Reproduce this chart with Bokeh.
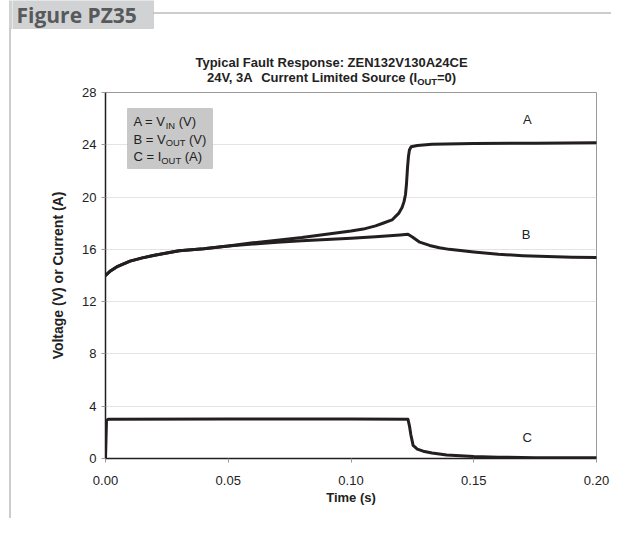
from bokeh.plotting import figure
from bokeh.layouts import column, row
from bokeh.models import (FixedTicker, NumeralTickFormatter, Label, BoxAnnotation, Range1d, Span)
from bokeh.embed import file_html
from bokeh.resources import INLINE

# ---------------- data ----------------
t_vin = [0.0, 0.002, 0.005, 0.01, 0.015, 0.02, 0.03, 0.04, 0.05, 0.06, 0.07, 0.08, 0.09, 0.10,
         0.105, 0.11, 0.113, 0.1167, 0.1194, 0.1208, 0.1216, 0.1222, 0.1226, 0.1230, 0.1234,
         0.1238, 0.1245, 0.127, 0.133, 0.15, 0.175, 0.20]
vin = [14.0, 14.35, 14.7, 15.1, 15.35, 15.55, 15.9, 16.05, 16.25, 16.5, 16.7, 16.9, 17.15, 17.4,
       17.55, 17.8, 18.0, 18.25, 18.75, 19.2, 19.65, 20.2, 21.0, 22.2, 23.1,
       23.6, 23.85, 23.95, 24.05, 24.1, 24.12, 24.15]

t_vout = [0.0, 0.002, 0.005, 0.01, 0.015, 0.02, 0.03, 0.04, 0.05, 0.06, 0.07, 0.08, 0.09, 0.10,
          0.11, 0.12, 0.1232, 0.125, 0.128, 0.132, 0.136, 0.14, 0.15, 0.16, 0.17, 0.18, 0.19, 0.20]
vout = [14.0, 14.35, 14.7, 15.1, 15.35, 15.55, 15.9, 16.05, 16.25, 16.4, 16.55, 16.65, 16.75, 16.85,
        16.97, 17.1, 17.15, 16.95, 16.55, 16.3, 16.12, 16.0, 15.8, 15.62, 15.52, 15.45, 15.4, 15.37]

t_iout = [0.0, 0.0004, 0.001, 0.05, 0.10, 0.1232, 0.1238, 0.1244, 0.1253, 0.127, 0.1294, 0.133,
          0.139, 0.15, 0.16, 0.175, 0.20]
iout = [0.0, 2.9, 3.0, 3.02, 3.02, 3.0, 2.5, 1.8, 1.0, 0.72, 0.56, 0.42,
        0.27, 0.15, 0.1, 0.06, 0.05]

x_ticks = [0.0, 0.05, 0.10, 0.15, 0.20]
y_ticks = [0, 4, 8, 12, 16, 20, 24, 28]

curve_names = ["A", "B", "C"]
curve_label_pos = [(0.1718, 25.9), (0.1713, 17.15), (0.1718, 1.6)]

title_line1 = "Typical Fault Response: ZEN132V130A24CE"
title_line2 = [("24V, 3A", False), ("  Current Limited Source (I", False), ("OUT", True), ("=0)", False)]
legend_lines = [
    [("A = V", False), ("IN", True), (" (V)", False)],
    [("B = V", False), ("OUT", True), (" (V)", False)],
    [("C = I", False), ("OUT", True), (" (A)", False)],
]
figure_tag = "Figure PZ35"

# ---------------- geometry ----------------
PAGE_W, PAGE_H = 611, 518
HEAD_H = 85            # header height (page y 0..85)
STRIP_W = 12           # narrow left strip holding the page rule
FRAME_L, FRAME_R, FRAME_T, FRAME_B = 105, 596, 92, 458
FONT = "Liberation Sans"
INK = "#231f20"
RULE = "#9a9a9a"
TAG_FILL = "#d1d2d4"

REG = {' ': 278, '(': 333, ')': 333, '=': 584, ',': 278, '.': 278, ':': 278,
       'A': 667, 'B': 667, 'C': 722, 'I': 278, 'N': 722, 'O': 778, 'T': 611, 'U': 722, 'V': 667}
BOLD = {' ': 278, '(': 333, ')': 333, '=': 584, ',': 278, '.': 278, ':': 333,
        'A': 722, 'C': 722, 'E': 667, 'F': 611, 'I': 278, 'L': 611, 'N': 722, 'O': 778, 'R': 722,
        'S': 667, 'T': 611, 'U': 722, 'V': 667, 'Z': 611,
        'a': 556, 'c': 556, 'd': 611, 'e': 556, 'i': 278, 'l': 278, 'm': 889, 'n': 611, 'o': 611,
        'p': 611, 'r': 389, 's': 556, 't': 333, 'u': 611, 'y': 556}


def tw(s, size, bold):
    table = BOLD if bold else REG
    return sum(table.get(c, 556) for c in s) / 1000.0 * size


def rich(fig, parts, left, center, size, bold, units, xoff=0, yoff=0):
    x = left
    for txt, sub in parts:
        fs = size * 0.72 if sub else size
        cy = center + (size * 0.28 if sub else 0)
        stripped = txt.lstrip(" ")
        x += tw(txt[:len(txt) - len(stripped)], fs, bold)
        fig.add_layout(Label(x=x - xoff, y=cy - yoff, x_units=units, y_units=units, text=stripped,
                             text_align="left", text_baseline="middle",
                             text_font=FONT, text_font_size="%.1fpx" % fs,
                             text_font_style="bold" if bold else "normal",
                             text_color="#222222"))
        x += tw(stripped, fs, bold)


def blank(width, height, xr, yr):
    f = figure(width=width, height=height, output_backend="svg", toolbar_location=None,
               x_range=xr, y_range=yr, x_axis_location=None, y_axis_location=None,
               min_border=0, min_border_left=0, min_border_right=0, min_border_top=0,
               min_border_bottom=0)
    f.grid.visible = False
    f.outline_line_color = None
    f.background_fill_color = "white"
    f.border_fill_color = "white"
    return f


# ---------------- left strip (page pixel coordinates) ----------------
strip = blank(STRIP_W, PAGE_H, Range1d(0, STRIP_W), Range1d(PAGE_H, 0))
strip.add_layout(BoxAnnotation(left=9, right=60, top=0, bottom=28, fill_color=TAG_FILL,
                               fill_alpha=1, line_color=RULE, line_width=1))
strip.segment(x0=[9.5], y0=[28], x1=[9.5], y1=[PAGE_H], line_color=RULE, line_width=1)

# ---------------- header (page pixel coordinates) ----------------
RIGHT_W = PAGE_W - STRIP_W
head = blank(RIGHT_W, HEAD_H, Range1d(STRIP_W, PAGE_W), Range1d(HEAD_H, 0))
head.add_layout(Span(location=12.5, dimension="width", line_color=RULE, line_width=1))
head.add_layout(BoxAnnotation(left=0, right=153, top=0, bottom=28, fill_color=TAG_FILL,
                              fill_alpha=1, line_color=None))
head.add_layout(BoxAnnotation(left=9, right=153, top=0, bottom=28, fill_alpha=0,
                              line_color=RULE, line_width=1))
head.add_layout(Label(x=16, y=14, text=figure_tag, text_align="left", text_baseline="middle",
                      text_font="Open Sans", text_font_size="21px", text_font_style="bold",
                      text_color="#58595b"))
TS = 13
head.add_layout(Label(x=331, y=62, text=title_line1, text_align="center", text_baseline="middle",
                      text_font=FONT, text_font_size="%dpx" % TS, text_font_style="bold",
                      text_color="#222222"))
w2 = sum(tw(t, TS * 0.72 if s else TS, True) for t, s in title_line2)
rich(head, title_line2, 331 - w2 / 2, 77, TS, True, "data")

# ---------------- main chart ----------------
BODY_H = PAGE_H - HEAD_H
p = figure(width=RIGHT_W, height=BODY_H, output_backend="svg", toolbar_location=None,
           x_range=Range1d(0, 0.2), y_range=Range1d(0, 28),
           min_border_left=FRAME_L - STRIP_W, min_border_right=RIGHT_W - (FRAME_R - STRIP_W),
           min_border_top=FRAME_T - HEAD_H, min_border_bottom=BODY_H - (FRAME_B - HEAD_H))
p.background_fill_color = "white"
p.border_fill_color = "white"
p.outline_line_color = RULE
p.outline_line_width = 1

p.xgrid.visible = False
p.ygrid.grid_line_color = "#e4e4e4"
p.ygrid.grid_line_width = 1

for ax in (p.xaxis[0], p.yaxis[0]):
    ax.axis_line_color = INK
    ax.axis_line_width = 1.5
    ax.major_tick_line_color = RULE
    ax.major_tick_out = 4
    ax.major_tick_in = 0
    ax.minor_tick_line_color = None
    ax.major_label_text_font = FONT
    ax.major_label_text_font_size = "13px"
    ax.major_label_text_color = "#222222"
    ax.axis_label_text_font = FONT
    ax.axis_label_text_font_style = "bold"
    ax.axis_label_text_color = "#222222"

p.xaxis.ticker = FixedTicker(ticks=x_ticks)
p.xaxis.formatter = NumeralTickFormatter(format="0.00")
p.xaxis.major_label_standoff = 13
p.xaxis.axis_label = "Time (s)"
p.xaxis.axis_label_text_font_size = "13px"
p.xaxis.axis_label_standoff = 2

p.yaxis.ticker = FixedTicker(ticks=y_ticks)
p.yaxis.major_label_standoff = 5
p.yaxis.axis_label = "Voltage (V) or Current (A)"
p.yaxis.axis_label_text_font_size = "14px"
p.yaxis.axis_label_standoff = 13

for tt, vv in ((t_vin, vin), (t_vout, vout), (t_iout, iout)):
    p.line(tt, vv, line_color=INK, line_width=3, line_join="round", line_cap="round")

for name, (cx, cy) in zip(curve_names, curve_label_pos):
    p.add_layout(Label(x=cx, y=cy, text=name, text_align="center", text_baseline="middle",
                       text_font=FONT, text_font_size="13px", text_color="#222222"))

# legend box (canvas units of the main chart = page minus offsets)
p.add_layout(BoxAnnotation(left=127 - STRIP_W, right=212 - STRIP_W, top=108 - HEAD_H, bottom=168 - HEAD_H,
                           left_units="canvas", right_units="canvas", top_units="canvas",
                           bottom_units="canvas",
                           fill_color="#c8c8c8", fill_alpha=1, line_color="#8a8a8a", line_width=1))
for i, parts in enumerate(legend_lines):
    rich(p, parts, 133, 121 + 17.5 * i, 13, False, "canvas", xoff=STRIP_W, yoff=HEAD_H)

# nesting the chart in its own row keeps the header's frame from being aligned to it
layout = row(strip, column(head, row(p, spacing=0), spacing=0), spacing=0)
open("out.html", "w").write(file_html(layout, INLINE))
